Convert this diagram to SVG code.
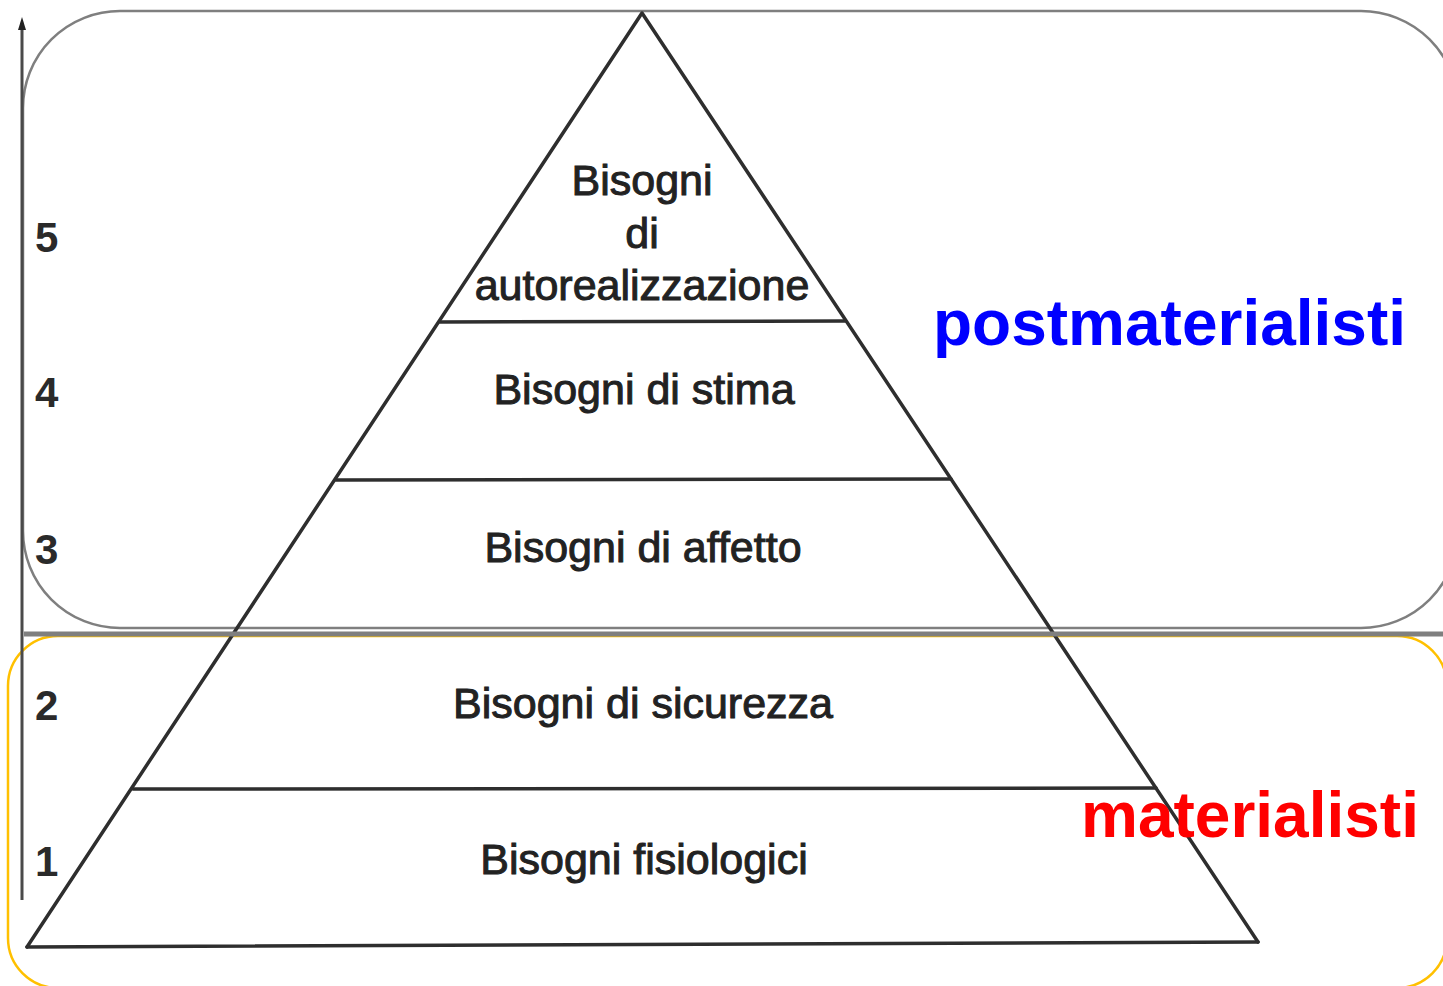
<svg xmlns="http://www.w3.org/2000/svg" width="1443" height="986" viewBox="0 0 1443 986">
  <style>
    .frame-post { fill: none; stroke: #7f7f7f; stroke-width: 2.5; }
    .frame-mat { fill: none; stroke: #FFC000; stroke-width: 2.5; }
    .pyr { fill: none; stroke: #2e2e2e; stroke-width: 3.5; stroke-linecap: round; stroke-linejoin: round; }
    .lbl { font-family: "Liberation Sans", Arial, sans-serif; font-size: 43px; fill: #222222; stroke: #222222; stroke-width: 1; text-anchor: middle; }
    .num { font-family: "Liberation Sans", Arial, sans-serif; font-size: 42px; font-weight: bold; fill: #2a2a2a; }
    .big { font-family: "Liberation Sans", Arial, sans-serif; font-size: 64px; font-weight: bold; }
  </style>
  <rect width="1443" height="986" fill="#ffffff"/>

  <g id="frame-postmaterialisti">
    <rect class="frame-post" x="23" y="11" width="1435" height="617" rx="97" ry="97"/>
  </g>
  <g id="frame-materialisti">
    <rect class="frame-mat" x="8" y="636" width="1439" height="352" rx="50" ry="50"/>
  </g>

  <g id="axis">
    <line x1="22" y1="24" x2="22" y2="900" stroke="#4a4a4a" stroke-width="3"/>
    <polygon points="22,17 18,30 26,30" fill="#222222"/>
  </g>

  <g id="pyramid">
    <polyline class="pyr" points="27,947 642,13 1258,942"/>
    <line class="pyr" x1="27" y1="947" x2="1258" y2="942"/>
    <line class="pyr" x1="440" y1="322" x2="845" y2="321"/>
    <line class="pyr" x1="336" y1="480" x2="951" y2="479"/>
    <line class="pyr" x1="133" y1="789" x2="1156" y2="788"/>
  </g>

  <g id="divider">
    <line x1="24" y1="634" x2="1443" y2="634" stroke="#7f7f7f" stroke-width="5"/>
  </g>

  <g id="tier5">
    <text class="lbl" x="642" y="195">Bisogni</text>
    <text class="lbl" x="642" y="248">di</text>
    <text class="lbl" x="642" y="300">autorealizzazione</text>
  </g>
  <g id="tier4"><text class="lbl" x="644" y="404">Bisogni di stima</text></g>
  <g id="tier3"><text class="lbl" x="643" y="562">Bisogni di affetto</text></g>
  <g id="tier2"><text class="lbl" x="643" y="718">Bisogni di sicurezza</text></g>
  <g id="tier1"><text class="lbl" x="644" y="874">Bisogni fisiologici</text></g>

  <g id="levels">
    <text class="num" x="35" y="252">5</text>
    <text class="num" x="35" y="407">4</text>
    <text class="num" x="35" y="564">3</text>
    <text class="num" x="35" y="720">2</text>
    <text class="num" x="35" y="876">1</text>
  </g>

  <g id="label-postmaterialisti">
    <text class="big" x="933" y="345" fill="#0000FF">postmaterialisti</text>
  </g>
  <g id="label-materialisti">
    <text class="big" x="1081" y="837" fill="#FF0000">materialisti</text>
  </g>
</svg>
